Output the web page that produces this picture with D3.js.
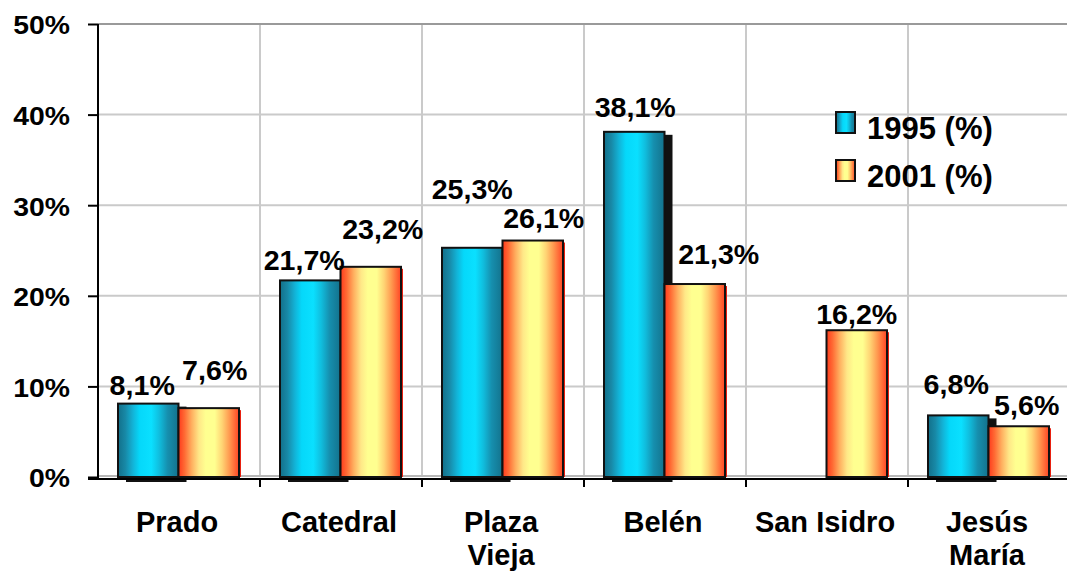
<!DOCTYPE html>
<html>
<head>
<meta charset="utf-8">
<script src="https://cdn.jsdelivr.net/npm/d3@7"></script>
<style>
  body { margin: 0; background: #fff; }
  text { font-family: "Liberation Sans", Arial, sans-serif; font-weight: bold; fill: #000; }
</style>
</head>
<body>
<svg id="chart" width="1067" height="576"></svg>
<script>
// data
const categories = ["Prado", "Catedral", "Plaza Vieja", "Belén", "San Isidro", "Jesús María"];
const categoryLines = [["Prado"], ["Catedral"], ["Plaza", "Vieja"], ["Belén"], ["San Isidro"], ["Jesús", "María"]];
const series = ["1995 (%)", "2001 (%)"];
const values1995 = [8.1, 21.7, 25.3, 38.1, null, 6.8];
const values2001 = [7.6, 23.2, 26.1, 21.3, 16.2, 5.6];
const yTicks = [0, 10, 20, 30, 40, 50];

// label nudges (Excel moved some labels to avoid overlaps)
const nudge1995 = [[-6, -9], [-6, -10], [0, -49], [1, -15], [0, -10], [-2, -21]];
const nudge2001 = [[6, -28], [12, -28], [11, -13], [24, -20], [0, -6], [8, -11]];

const svg = d3.select("#chart");
const plotLeft = 98, plotRight = 1070, plotTop = 24, plotFloor = 477;

const x = d3.scaleBand().domain(categories).range([plotLeft, plotRight]).padding(0);
const x1 = d3.scaleBand().domain(series).range([20, 141]).padding(0);
const y = d3.scaleLinear().domain([0, 50]).range([plotFloor, plotTop]);

// gradients
const defs = svg.append("defs");
function grad(id, stops) {
  const g = defs.append("linearGradient").attr("id", id)
    .attr("x1", "0%").attr("x2", "100%").attr("y1", "0%").attr("y2", "0%");
  stops.forEach(s => g.append("stop").attr("offset", s[0]).attr("stop-color", s[1]));
}
grad("gBlue", [["0%", "#12708a"], ["12%", "#1888a6"], ["25%", "#12b4d8"], ["36%", "#05d8fa"], ["55%", "#0ae0ff"],
  ["68%", "#10bede"], ["82%", "#168fae"], ["100%", "#13728c"]]);
grad("gYellow", [["0%", "#ff3a1c"], ["10%", "#ff6a34"], ["22%", "#ffb060"], ["34%", "#ffe888"], ["45%", "#ffff90"],
  ["60%", "#ffff90"], ["72%", "#ffd474"], ["84%", "#ff9a50"], ["100%", "#ff4424"]]);

function stretch(sel, k) {
  sel.each(function() {
    const w = this.getComputedTextLength();
    d3.select(this).attr("textLength", w * k).attr("lengthAdjust", "spacingAndGlyphs");
  });
}

// gridlines
svg.append("g").selectAll("line").data(yTicks.filter(t => t > 0 && t < 50)).join("line")
  .attr("x1", plotLeft).attr("x2", plotRight).attr("y1", d => y(d)).attr("y2", d => y(d))
  .attr("stroke", "#cacaca").attr("stroke-width", 2);
svg.append("g").selectAll("line").data(categories.slice(1)).join("line")
  .attr("x1", d => x(d)).attr("x2", d => x(d)).attr("y1", plotTop).attr("y2", plotFloor)
  .attr("stroke", "#cacaca").attr("stroke-width", 2);
svg.append("line").attr("x1", plotLeft).attr("x2", plotRight).attr("y1", y(50)).attr("y2", y(50))
  .attr("stroke", "#9a9a9a").attr("stroke-width", 2);
// floor
svg.append("line").attr("x1", plotLeft).attr("x2", plotRight).attr("y1", plotFloor - 1).attr("y2", plotFloor - 1)
  .attr("stroke", "#b8b8b8").attr("stroke-width", 2);

// bars
const rows = categories.map((c, i) => ({ c, i, a: values1995[i], b: values2001[i] }));
const g = svg.append("g");

// shadows of the 1995 bars
g.selectAll(".sh").data(rows.filter(d => d.a != null)).join("rect")
  .attr("x", d => x(d.c) + x1(series[0]) + 8)
  .attr("y", d => y(d.a) + 3)
  .attr("width", x1.bandwidth())
  .attr("height", d => plotFloor - y(d.a) + 2)
  .attr("fill", "#111");

g.selectAll(".b95").data(rows.filter(d => d.a != null)).join("rect")
  .attr("x", d => x(d.c) + x1(series[0]))
  .attr("y", d => y(d.a))
  .attr("width", x1.bandwidth())
  .attr("height", d => plotFloor - y(d.a))
  .attr("fill", "url(#gBlue)").attr("stroke", "#111").attr("stroke-width", 2);

// thin red side of the 2001 bars
g.selectAll(".sd").data(rows).join("rect")
  .attr("x", d => x(d.c) + x1(series[1]) + x1.bandwidth())
  .attr("y", d => y(d.b) + 2)
  .attr("width", 2)
  .attr("height", d => plotFloor - y(d.b) - 2)
  .attr("fill", "#e82010");

g.selectAll(".b01").data(rows).join("rect")
  .attr("x", d => x(d.c) + x1(series[1]))
  .attr("y", d => y(d.b))
  .attr("width", x1.bandwidth())
  .attr("height", d => plotFloor - y(d.b))
  .attr("fill", "url(#gYellow)").attr("stroke", "#111").attr("stroke-width", 2);

// axes
const yAxis = svg.append("g").attr("transform", `translate(${plotLeft},0)`)
  .call(d3.axisLeft(y).tickValues(yTicks).tickSize(10).tickPadding(18).tickFormat(d => d + "%"));
yAxis.select(".domain").attr("stroke", "#000").attr("stroke-width", 2).attr("d", `M0,${plotTop}V${plotFloor + 2}`);
yAxis.selectAll(".tick line").attr("stroke", "#000").attr("stroke-width", 2);
yAxis.selectAll(".tick text").attr("font-size", 26).attr("dy", "0.38em")
  .style("font-family", "'Liberation Sans', Arial, sans-serif").style("font-weight", "bold");
stretch(yAxis.selectAll(".tick text"), 1.09);

const xAxis = svg.append("g").attr("transform", `translate(0,${plotFloor + 2})`);
xAxis.append("line").attr("x1", plotLeft - 10).attr("x2", plotRight).attr("y1", 0).attr("y2", 0)
  .attr("stroke", "#000").attr("stroke-width", 2);
xAxis.selectAll(".tk").data(categories.slice(1)).join("line")
  .attr("x1", d => x(d)).attr("x2", d => x(d)).attr("y1", 0).attr("y2", 8)
  .attr("stroke", "#000").attr("stroke-width", 2);

const catText = svg.append("g").selectAll("text").data(categories).join("text")
  .attr("text-anchor", "middle").attr("font-size", 29)
  .attr("x", d => x(d) + x.bandwidth() / 2 - 2)
  .attr("y", 532);
catText.selectAll("tspan").data((d, i) => categoryLines[i]).join("tspan")
  .attr("x", function() { return d3.select(this.parentNode).attr("x"); })
  .attr("dy", (d, j) => j === 0 ? 0 : 33)
  .text(d => d);

// value labels
const fmt = v => v.toFixed(1).replace(".", ",") + "%";
const lab95 = svg.append("g").selectAll("text").data(rows.filter(d => d.a != null)).join("text")
  .attr("text-anchor", "middle").attr("font-size", 27)
  .attr("x", d => x(d.c) + x1(series[0]) + x1.bandwidth() / 2 + nudge1995[d.i][0])
  .attr("y", d => y(d.a) + nudge1995[d.i][1])
  .text(d => fmt(d.a));
stretch(lab95, 1.06);
const lab01 = svg.append("g").selectAll("text").data(rows).join("text")
  .attr("text-anchor", "middle").attr("font-size", 27)
  .attr("x", d => x(d.c) + x1(series[1]) + x1.bandwidth() / 2 + nudge2001[d.i][0])
  .attr("y", d => y(d.b) + nudge2001[d.i][1])
  .text(d => fmt(d.b));
stretch(lab01, 1.06);

// legend
const legend = svg.append("g").attr("transform", "translate(836,112)");
const li = legend.selectAll("g").data(series).join("g")
  .attr("transform", (d, i) => `translate(0,${i * 48})`);
li.append("rect").attr("width", 19).attr("height", 21)
  .attr("fill", (d, i) => i === 0 ? "url(#gBlue)" : "url(#gYellow)")
  .attr("stroke", "#111").attr("stroke-width", 2);
li.append("text").attr("x", 31).attr("y", 27).attr("font-size", 31).text(d => d);
</script>
</body>
</html>
